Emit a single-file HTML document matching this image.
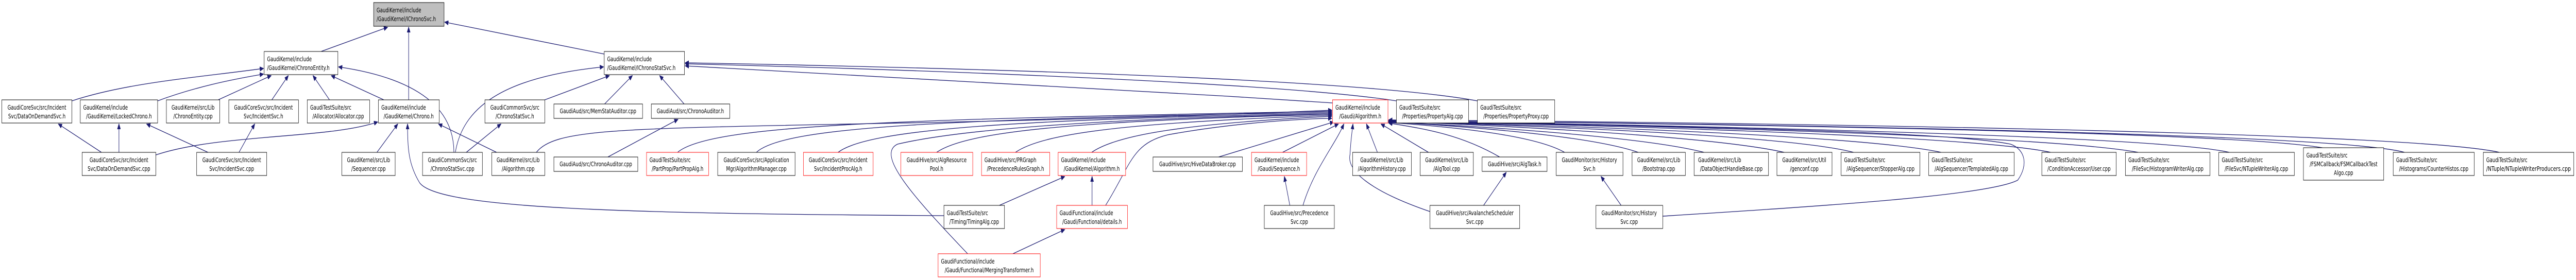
<!DOCTYPE html>
<html><head><meta charset="utf-8">
<style>
html,body{margin:0;padding:0;background:#fff;width:100%;height:100%;overflow:hidden;}
svg{display:block;width:100vw;height:100vh;}
text{font-family:"DejaVu Sans","Liberation Sans",sans-serif;font-size:12.2px;fill:#000;}
.c{text-anchor:middle;}
.l{text-anchor:start;}
rect{fill:#fff;stroke:#000;stroke-width:1;}
rect.r{stroke:#ff0000;}
rect.g{fill:#bfbfbf;}
path{fill:none;stroke:#191970;stroke-width:1.3;}
</style></head>
<body>
<svg viewBox="0 0 7060 544" preserveAspectRatio="none" xmlns="http://www.w3.org/2000/svg">
<defs><marker id="a" markerWidth="11" markerHeight="9" refX="10" refY="4.5" orient="auto" markerUnits="userSpaceOnUse"><path d="M0,0 L11,4.5 L0,9z" style="fill:#191970;stroke:#191970;stroke-width:0.5"/></marker></defs>
<g marker-end="url(#a)">
<path d="M880,100 L1062,53"/>
<path d="M1120,194 L1120,53"/>
<path d="M1656,105 L1219,43"/>
<path d="M197,196 C350,160 550,150 722,133"/>
<path d="M432,196 C530,170 630,155 722,144"/>
<path d="M598,194 L743,147"/>
<path d="M745,194 L790,147"/>
<path d="M903,194 L858,147"/>
<path d="M1052,194 L908,147"/>
<path d="M1244,296 C1244,200 1120,150 928,130"/>
<path d="M278,296 L160,241"/>
<path d="M326,296 L326,241"/>
<path d="M427,301 C600,260 900,270 1035,237"/>
<path d="M570,296 L402,241"/>
<path d="M655,296 L698,241"/>
<path d="M1033,296 L1090,241"/>
<path d="M1361,296 L1202,241"/>
<path d="M2587,419 C1700,415 1200,405 1150,355 C1120,320 1117,290 1117,241"/>
<path d="M1493,194 L1670,147"/>
<path d="M1278,296 L1373,241"/>
<path d="M1248,296 C1270,200 1400,148 1654,130"/>
<path d="M1657,202 L1733,147"/>
<path d="M1875,202 L1808,147"/>
<path d="M1666,305 L1858,232"/>
<path d="M3652,200 C3000,170 2300,140 1878,128"/>
<path d="M3827,196 C3500,160 2500,135 1878,124"/>
<path d="M4049,196 C3700,150 2500,130 1878,122"/>
<path d="M1470,296 C1520,250 1700,250 2400,240 C3000,232 3400,222 3650,214"/>
<path d="M1857,296 C1950,240 2500,232 3650,216"/>
<path d="M2073,296 C2150,245 2600,232 3650,218"/>
<path d="M2297,296 C2380,250 2800,232 3650,220"/>
<path d="M2567,296 C2650,255 2950,235 3650,222"/>
<path d="M2783,296 C2860,258 3100,238 3650,224"/>
<path d="M2992,296 C3060,262 3250,240 3650,226"/>
<path d="M2652,493 C2500,380 2400,300 2460,280 C2700,240 3300,226 3650,222"/>
<path d="M3030,399 C3100,320 3100,280 3200,262 C3400,236 3600,230 3650,230"/>
<path d="M3340,305 L3655,237"/>
<path d="M3515,296 L3668,241"/>
<path d="M3571,399 C3600,330 3660,280 3683,241"/>
<path d="M3919,411 C3750,370 3690,330 3700,300 C3702,270 3706,255 3708,241"/>
<path d="M3775,296 L3745,241"/>
<path d="M3915,296 L3785,241"/>
<path d="M4110,305 C4000,260 3900,250 3806,239"/>
<path d="M4288,296 C4200,260 3950,245 3806,238"/>
<path d="M4490,296 C4350,262 4000,245 3806,237"/>
<path d="M4670,296 C4500,265 4050,245 3806,237"/>
<path d="M4890,296 C4700,265 4100,243 3806,236"/>
<path d="M5080,296 C4900,262 4150,243 3806,236"/>
<path d="M5320,296 C5100,262 4200,242 3806,236"/>
<path d="M5620,296 C5400,262 4300,242 3806,235"/>
<path d="M5860,296 C5600,262 4400,242 3806,235"/>
<path d="M6110,296 C5900,262 4500,242 3806,235"/>
<path d="M6365,287 C6100,255 4600,240 3806,234"/>
<path d="M6590,296 C6400,258 4700,240 3806,234"/>
<path d="M6850,296 C6600,256 4800,238 3806,233"/>
<path d="M4557,420 C5000,400 5450,380 5530,350 C5560,320 5550,290 5510,280 C5300,250 4200,240 3806,238"/>
<path d="M3535,399 L3520,343"/>
<path d="M4066,399 L4128,335"/>
<path d="M4443,399 L4388,343"/>
<path d="M2739,399 L2918,343"/>
<path d="M2993,399 L2993,343"/>
<path d="M2776,493 L2918,446"/>
</g>

<rect class="g" x="1024" y="5" width="193" height="46"/><text class="l" x="1032" y="24">GaudiKernel/include</text><text class="l" x="1032" y="41">/GaudiKernel/IChronoSvc.h</text>
<rect x="724" y="100" width="202" height="45"/><text class="l" x="732" y="119">GaudiKernel/include</text><text class="l" x="732" y="136">/GaudiKernel/ChronoEntity.h</text>
<rect x="1656" y="100" width="220" height="45"/><text class="l" x="1664" y="119">GaudiKernel/include</text><text class="l" x="1664" y="136">/GaudiKernel/IChronoStatSvc.h</text>

<rect x="5" y="194" width="192" height="45"/><text class="c" x="101" y="213">GaudiCoreSvc/src/Incident</text><text class="c" x="101" y="230">Svc/DataOnDemandSvc.h</text>
<rect x="220" y="194" width="212" height="45"/><text class="l" x="228" y="213">GaudiKernel/include</text><text class="c" x="326" y="230">/GaudiKernel/LockedChrono.h</text>
<rect x="456" y="194" width="146" height="45"/><text class="c" x="529" y="213">GaudiKernel/src/Lib</text><text class="c" x="529" y="230">/ChronoEntity.cpp</text>
<rect x="627" y="194" width="191" height="45"/><text class="c" x="722" y="213">GaudiCoreSvc/src/Incident</text><text class="c" x="722" y="230">Svc/IncidentSvc.h</text>
<rect x="842" y="194" width="171" height="45"/><text class="l" x="850" y="213">GaudiTestSuite/src</text><text class="c" x="927" y="230">/Allocator/Allocator.cpp</text>
<rect x="1037" y="194" width="167" height="45"/><text class="l" x="1045" y="213">GaudiKernel/include</text><text class="c" x="1120" y="230">/GaudiKernel/Chrono.h</text>
<rect x="1329" y="194" width="164" height="45"/><text class="c" x="1411" y="213">GaudiCommonSvc/src</text><text class="c" x="1411" y="230">/ChronoStatSvc.h</text>
<rect x="1518" y="202" width="243" height="28"/><text class="c" x="1639" y="220">GaudiAud/src/MemStatAuditor.cpp</text>
<rect x="1785" y="202" width="215" height="28"/><text class="c" x="1892" y="220">GaudiAud/src/ChronoAuditor.h</text>
<rect class="r" x="3652" y="194" width="152" height="45"/><text class="l" x="3660" y="213">GaudiKernel/include</text><text class="c" x="3728" y="230">/Gaudi/Algorithm.h</text>
<rect x="3827" y="194" width="198" height="45"/><text class="l" x="3835" y="213">GaudiTestSuite/src</text><text class="c" x="3926" y="230">/Properties/PropertyAlg.cpp</text>
<rect x="4049" y="194" width="212" height="45"/><text class="l" x="4057" y="213">GaudiTestSuite/src</text><text class="c" x="4155" y="230">/Properties/PropertyProxy.cpp</text>

<rect x="225" y="296" width="202" height="45"/><text class="c" x="326" y="315">GaudiCoreSvc/src/Incident</text><text class="c" x="326" y="332">Svc/DataOnDemandSvc.cpp</text>
<rect x="539" y="296" width="192" height="45"/><text class="c" x="635" y="315">GaudiCoreSvc/src/Incident</text><text class="c" x="635" y="332">Svc/IncidentSvc.cpp</text>
<rect x="937" y="296" width="146" height="45"/><text class="c" x="1010" y="315">GaudiKernel/src/Lib</text><text class="c" x="1010" y="332">/Sequencer.cpp</text>
<rect x="1158" y="296" width="164" height="45"/><text class="c" x="1240" y="315">GaudiCommonSvc/src</text><text class="c" x="1240" y="332">/ChronoStatSvc.cpp</text>
<rect x="1348" y="296" width="145" height="45"/><text class="c" x="1420" y="315">GaudiKernel/src/Lib</text><text class="c" x="1420" y="332">/Algorithm.cpp</text>
<rect x="1518" y="305" width="230" height="28"/><text class="c" x="1633" y="323">GaudiAud/src/ChronoAuditor.cpp</text>
<rect class="r" x="1772" y="296" width="170" height="45"/><text class="l" x="1780" y="315">GaudiTestSuite/src</text><text class="c" x="1857" y="332">/PartProp/PartPropAlg.h</text>
<rect x="1967" y="296" width="212" height="45"/><text class="c" x="2073" y="315">GaudiCoreSvc/src/Application</text><text class="c" x="2073" y="332">Mgr/AlgorithmManager.cpp</text>
<rect class="r" x="2202" y="296" width="191" height="45"/><text class="c" x="2297" y="315">GaudiCoreSvc/src/Incident</text><text class="c" x="2297" y="332">Svc/IncidentProcAlg.h</text>
<rect class="r" x="2469" y="296" width="197" height="45"/><text class="c" x="2567" y="315">GaudiHive/src/AlgResource</text><text class="c" x="2567" y="332">Pool.h</text>
<rect class="r" x="2690" y="296" width="187" height="45"/><text class="l" x="2698" y="315">GaudiHive/src/PRGraph</text><text class="c" x="2783" y="332">/PrecedenceRulesGraph.h</text>
<rect class="r" x="2900" y="296" width="185" height="45"/><text class="l" x="2908" y="315">GaudiKernel/include</text><text class="c" x="2992" y="332">/GaudiKernel/Algorithm.h</text>
<rect x="3160" y="305" width="245" height="28"/><text class="c" x="3282" y="323">GaudiHive/src/HiveDataBroker.cpp</text>
<rect class="r" x="3430" y="296" width="151" height="45"/><text class="l" x="3438" y="315">GaudiKernel/include</text><text class="c" x="3505" y="332">/Gaudi/Sequence.h</text>
<rect x="3707" y="296" width="161" height="45"/><text class="c" x="3787" y="315">GaudiKernel/src/Lib</text><text class="c" x="3787" y="332">/AlgorithmHistory.cpp</text>
<rect x="3892" y="296" width="146" height="45"/><text class="c" x="3965" y="315">GaudiKernel/src/Lib</text><text class="c" x="3965" y="332">/AlgTool.cpp</text>
<rect x="4062" y="305" width="178" height="28"/><text class="c" x="4151" y="323">GaudiHive/src/AlgTask.h</text>
<rect x="4265" y="296" width="183" height="45"/><text class="c" x="4356" y="315">GaudiMonitor/src/History</text><text class="c" x="4356" y="332">Svc.h</text>
<rect x="4473" y="296" width="146" height="45"/><text class="c" x="4546" y="315">GaudiKernel/src/Lib</text><text class="c" x="4546" y="332">/Bootstrap.cpp</text>
<rect x="4643" y="296" width="204" height="45"/><text class="l" x="4654" y="315">GaudiKernel/src/Lib</text><text class="c" x="4745" y="332">/DataObjectHandleBase.cpp</text>
<rect x="4870" y="296" width="151" height="45"/><text class="c" x="4945" y="315">GaudiKernel/src/Util</text><text class="c" x="4945" y="332">/genconf.cpp</text>
<rect x="5046" y="296" width="216" height="45"/><text class="l" x="5054" y="315">GaudiTestSuite/src</text><text class="c" x="5154" y="332">/AlgSequencer/StopperAlg.cpp</text>
<rect x="5286" y="296" width="234" height="45"/><text class="l" x="5294" y="315">GaudiTestSuite/src</text><text class="c" x="5403" y="332">/AlgSequencer/TemplatedAlg.cpp</text>
<rect x="5596" y="296" width="204" height="45"/><text class="l" x="5604" y="315">GaudiTestSuite/src</text><text class="c" x="5698" y="332">/ConditionAccessor/User.cpp</text>
<rect x="5825" y="296" width="232" height="45"/><text class="l" x="5833" y="315">GaudiTestSuite/src</text><text class="c" x="5941" y="332">/FileSvc/HistogramWriterAlg.cpp</text>
<rect x="6081" y="296" width="207" height="45"/><text class="l" x="6089" y="315">GaudiTestSuite/src</text><text class="c" x="6184" y="332">/FileSvc/NTupleWriterAlg.cpp</text>
<rect x="6313" y="287" width="220" height="63"/><text class="l" x="6321" y="306">GaudiTestSuite/src</text><text class="c" x="6423" y="323">/FSMCallback/FSMCallbackTest</text><text class="c" x="6423" y="340">Algo.cpp</text>
<rect x="6559" y="296" width="222" height="45"/><text class="l" x="6567" y="315">GaudiTestSuite/src</text><text class="c" x="6670" y="332">/Histograms/CounterHistos.cpp</text>
<rect x="6806" y="296" width="248" height="45"/><text class="l" x="6814" y="315">GaudiTestSuite/src</text><text class="l" x="6814" y="332" textLength="232" lengthAdjust="spacingAndGlyphs">/NTuple/NTupleWriterProducers.cpp</text>

<rect x="2587" y="399" width="166" height="45"/><text class="l" x="2595" y="418">GaudiTestSuite/src</text><text class="c" x="2670" y="435">/Timing/TimingAlg.cpp</text>
<rect class="r" x="2896" y="399" width="194" height="45"/><text class="l" x="2904" y="418">GaudiFunctional/include</text><text class="c" x="2993" y="435">/Gaudi/Functional/details.h</text>
<rect x="3465" y="399" width="192" height="45"/><text class="c" x="3561" y="418">GaudiHive/src/Precedence</text><text class="c" x="3561" y="435">Svc.cpp</text>
<rect x="3919" y="399" width="246" height="45"/><text class="c" x="4042" y="418">GaudiHive/src/AvalancheScheduler</text><text class="c" x="4042" y="435">Svc.cpp</text>
<rect x="4374" y="399" width="183" height="45"/><text class="c" x="4465" y="418">GaudiMonitor/src/History</text><text class="c" x="4465" y="435">Svc.cpp</text>

<rect class="r" x="2571" y="493" width="280" height="45"/><text class="l" x="2579" y="512">GaudiFunctional/include</text><text class="c" x="2711" y="529">/Gaudi/Functional/MergingTransformer.h</text>
</svg>
</body></html>
